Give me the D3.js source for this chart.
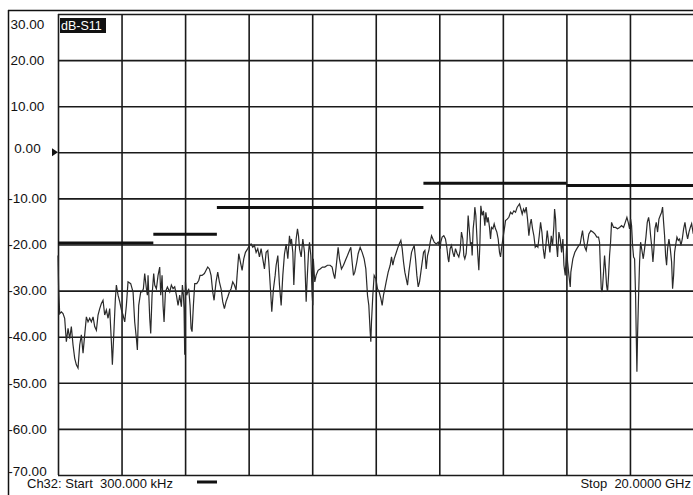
<!DOCTYPE html>
<html>
<head>
<meta charset="utf-8">
<script src="https://cdn.jsdelivr.net/npm/d3@7"></script>
<style>
  body { margin: 0; background: #fff; }
  svg { display: block; font-family: "Liberation Sans", Arial, sans-serif; }
  text { white-space: pre; }
</style>
</head>
<body>
<svg width="693" height="495"></svg>
<script>
// frequency (GHz) / S11 (dB)
var freqGHz = [0.0003,0.02,0.053,0.106,0.158,0.21,0.263,0.316,0.368,0.42,0.473,0.526,0.578,0.63,0.683,0.735,0.788,0.84,0.893,0.945,0.998,1.05,1.103,1.155,1.208,1.26,1.313,1.365,1.417,1.47,1.522,1.575,1.627,1.68,1.711,1.764,1.806,1.837,1.89,1.942,1.995,2.047,2.1,2.152,2.204,2.288,2.362,2.414,2.467,2.498,2.54,2.603,2.645,2.687,2.729,2.782,2.813,2.834,2.887,2.918,2.96,3.012,3.044,3.096,3.149,3.201,3.233,3.275,3.306,3.338,3.38,3.443,3.516,3.568,3.621,3.673,3.726,3.778,3.831,3.883,3.915,3.946,3.967,3.988,4.01,4.051,4.114,4.156,4.188,4.219,4.261,4.303,4.366,4.429,4.471,4.534,4.607,4.66,4.712,4.765,4.817,4.87,4.912,4.974,5.027,5.079,5.132,5.184,5.237,5.289,5.342,5.394,5.447,5.499,5.552,5.604,5.636,5.688,5.741,5.794,5.846,5.899,5.972,6.025,6.077,6.13,6.182,6.235,6.287,6.34,6.392,6.445,6.497,6.55,6.602,6.634,6.686,6.728,6.781,6.834,6.865,6.918,6.97,7.023,7.075,7.128,7.18,7.233,7.285,7.317,7.348,7.39,7.422,7.464,7.495,7.537,7.569,7.6,7.653,7.705,7.758,7.81,7.842,7.884,7.915,7.957,7.999,8.02,8.035,8.081,8.123,8.186,8.249,8.322,8.396,8.48,8.564,8.627,8.669,8.711,8.753,8.816,8.858,8.921,8.984,9.047,9.11,9.173,9.215,9.257,9.299,9.341,9.404,9.446,9.509,9.572,9.635,9.688,9.74,9.782,9.824,9.845,9.866,9.908,9.95,10.003,10.055,10.108,10.16,10.202,10.244,10.286,10.328,10.391,10.454,10.496,10.538,10.58,10.633,10.685,10.738,10.79,10.832,10.874,10.916,10.958,11.0,11.042,11.084,11.126,11.168,11.21,11.252,11.294,11.336,11.378,11.42,11.462,11.504,11.546,11.588,11.63,11.672,11.714,11.756,11.798,11.84,11.903,11.966,12.029,12.047,12.089,12.142,12.194,12.236,12.278,12.299,12.341,12.383,12.425,12.467,12.509,12.562,12.614,12.656,12.698,12.74,12.772,12.803,12.845,12.877,12.908,12.95,12.982,13.013,13.034,13.066,13.097,13.118,13.15,13.181,13.213,13.244,13.276,13.307,13.349,13.391,13.433,13.465,13.507,13.538,13.58,13.612,13.643,13.685,13.727,13.769,13.811,13.853,13.895,13.927,13.958,14.0,14.032,14.063,14.084,14.137,14.189,14.242,14.294,14.347,14.399,14.452,14.483,14.525,14.567,14.609,14.651,14.693,14.735,14.777,14.819,14.861,14.893,14.935,14.977,15.019,15.061,15.103,15.145,15.187,15.229,15.271,15.313,15.355,15.397,15.439,15.481,15.523,15.565,15.607,15.628,15.659,15.691,15.722,15.764,15.806,15.848,15.89,15.922,15.964,16.006,16.037,16.079,16.121,16.14,16.203,16.266,16.329,16.392,16.434,16.476,16.507,16.539,16.581,16.623,16.665,16.707,16.77,16.833,16.896,16.959,17.012,17.043,17.064,17.096,17.127,17.169,17.201,17.232,17.264,17.295,17.327,17.358,17.39,17.421,17.484,17.547,17.61,17.673,17.736,17.799,17.852,17.904,17.946,17.988,18.02,18.051,18.083,18.114,18.146,18.177,18.198,18.219,18.24,18.272,18.303,18.335,18.377,18.419,18.461,18.503,18.545,18.587,18.618,18.65,18.692,18.723,18.755,18.786,18.828,18.87,18.912,18.954,18.996,19.027,19.059,19.09,19.122,19.153,19.185,19.227,19.269,19.311,19.342,19.374,19.405,19.437,19.479,19.521,19.563,19.605,19.647,19.689,19.731,19.773,19.815,19.857,19.899,19.941,19.983,20.0];
var s11dB = [-22.4,-29.5,-35.0,-34.6,-35.0,-36.0,-41.1,-38.2,-40.4,-37.8,-41.8,-44.7,-46.1,-46.8,-41.8,-39.6,-43.6,-39.6,-35.7,-36.8,-36.0,-36.8,-35.7,-37.8,-38.6,-35.3,-33.9,-32.8,-32.1,-35.3,-34.2,-36.0,-33.9,-41.1,-46.1,-38.2,-31.7,-28.8,-31.0,-32.4,-34.2,-35.3,-36.8,-33.2,-28.1,-28.5,-30.3,-36.8,-40.4,-42.9,-33.2,-30.3,-30.3,-29.6,-26.3,-29.6,-31.0,-26.7,-36.0,-39.3,-31.0,-26.3,-28.8,-29.6,-26.7,-24.9,-31.0,-26.7,-33.2,-36.8,-30.3,-29.2,-30.3,-28.8,-29.6,-29.2,-31.0,-33.2,-31.0,-33.5,-28.8,-31.0,-33.9,-43.9,-28.1,-31.0,-29.6,-33.2,-38.2,-38.9,-33.2,-28.5,-28.5,-27.8,-26.7,-26.7,-26.3,-25.6,-24.9,-25.3,-26.7,-30.3,-32.1,-28.1,-26.0,-28.1,-29.6,-32.4,-33.9,-32.4,-31.4,-30.3,-29.6,-28.1,-28.8,-29.9,-26.7,-22.0,-23.8,-25.6,-23.1,-21.7,-20.9,-20.2,-19.9,-20.6,-20.2,-21.7,-20.9,-22.7,-20.9,-23.1,-25.3,-21.7,-21.3,-23.8,-29.6,-34.6,-29.6,-26.7,-24.5,-22.4,-28.8,-33.2,-26.7,-22.0,-19.9,-23.1,-18.1,-19.9,-18.8,-21.7,-28.8,-21.7,-18.8,-16.6,-18.1,-20.9,-22.7,-18.8,-21.7,-32.4,-27.4,-21.7,-19.5,-22.4,-31.0,-33.2,-23.1,-28.1,-26.7,-25.6,-25.3,-24.9,-24.9,-24.5,-24.5,-24.9,-26.3,-27.4,-24.9,-20.6,-23.1,-25.3,-24.5,-23.4,-22.4,-21.3,-20.6,-23.8,-26.7,-26.0,-23.8,-22.0,-20.6,-21.7,-23.1,-25.3,-31.0,-33.2,-38.9,-41.1,-36.8,-31.0,-26.7,-27.4,-29.6,-30.3,-31.7,-33.2,-31.0,-29.6,-28.1,-26.0,-24.5,-22.7,-24.5,-23.1,-22.0,-20.9,-19.9,-19.1,-20.9,-23.8,-26.0,-27.4,-28.8,-26.0,-23.8,-21.7,-20.9,-20.2,-23.1,-26.7,-29.2,-28.1,-26.0,-23.8,-21.7,-21.3,-25.3,-22.4,-21.3,-19.5,-18.1,-18.8,-19.5,-19.9,-19.5,-20.9,-19.5,-18.4,-18.1,-18.8,-20.6,-23.1,-23.8,-20.9,-20.2,-21.7,-22.7,-20.9,-22.0,-22.7,-21.3,-17.3,-18.8,-22.4,-23.1,-22.0,-18.8,-13.7,-17.3,-20.2,-19.5,-22.4,-16.6,-14.5,-11.9,-13.7,-18.1,-22.4,-25.6,-20.2,-11.6,-13.7,-12.7,-15.9,-13.0,-15.2,-14.1,-16.3,-18.8,-16.3,-16.6,-15.5,-16.6,-17.3,-18.8,-21.7,-22.7,-20.9,-18.8,-17.3,-15.9,-14.8,-14.5,-14.1,-13.0,-13.4,-12.7,-13.0,-11.9,-11.6,-11.2,-12.3,-13.4,-12.3,-13.0,-11.9,-14.5,-18.1,-15.5,-14.5,-16.6,-18.1,-20.6,-20.2,-20.6,-18.1,-15.2,-17.3,-20.9,-23.1,-20.2,-17.0,-19.5,-21.7,-18.1,-20.2,-15.9,-12.3,-14.5,-20.2,-22.7,-17.3,-18.8,-21.7,-18.8,-24.5,-26.7,-20.6,-23.8,-26.7,-29.2,-26.0,-23.1,-21.7,-20.9,-20.2,-19.9,-18.1,-17.0,-18.8,-20.6,-21.3,-19.5,-17.7,-17.0,-17.3,-17.7,-18.4,-18.4,-19.5,-23.8,-29.6,-30.3,-26.0,-22.4,-25.3,-28.8,-30.3,-26.7,-22.4,-19.5,-15.2,-16.3,-16.3,-16.6,-16.3,-15.9,-16.3,-15.2,-14.1,-15.2,-16.6,-14.5,-15.9,-20.2,-22.7,-23.1,-31.0,-39.6,-47.6,-39.6,-31.0,-23.8,-19.5,-21.3,-23.1,-20.9,-18.4,-15.2,-14.1,-15.5,-18.1,-20.9,-23.8,-20.9,-16.6,-15.2,-17.3,-14.5,-13.7,-13.0,-11.9,-15.2,-18.1,-22.4,-24.5,-20.9,-18.8,-20.9,-23.8,-29.6,-26.7,-21.7,-20.2,-18.4,-19.1,-18.8,-20.2,-18.8,-16.6,-15.2,-17.3,-18.8,-17.3,-16.3,-15.5,-17.3,-17.0];

// limit line segments
var limitStart = [0.0003, 3, 5, 11.5, 16];
var limitStop = [3, 5, 11.5, 16, 20];
var limitDb = [-19.7, -17.8, -12.0, -6.7, -7.2];

var xTicks = d3.range(0, 21, 2);
var yTicks = d3.range(30, -71, -10);
var traceName = "dB-S11";
var startLabel = "Ch32: Start  300.000 kHz";
var stopLabel = "Stop  20.0000 GHz";

var svg = d3.select("svg");
var plotL = 58, plotT = 14, plotR = 693.5, plotB = 475;

var x = d3.scaleLinear().domain([0, 20]).range([plotL, plotR]);
var y = d3.scaleLinear().domain([30, -70]).range([plotT, plotB]);

// frame
svg.append("line").attr("x1", 8).attr("x2", 693).attr("y1", 10.5).attr("y2", 10.5)
  .attr("stroke", "#111").attr("stroke-width", 1.5);
svg.append("line").attr("x1", 8.5).attr("x2", 8.5).attr("y1", 10).attr("y2", 495)
  .attr("stroke", "#111").attr("stroke-width", 1.5);

// grid
svg.append("g").attr("transform", "translate(0," + plotB + ")")
  .call(d3.axisBottom(x).tickValues(xTicks).tickSize(-(plotB - plotT)).tickFormat(""));
svg.append("g").attr("transform", "translate(" + plotL + ",0)")
  .call(d3.axisLeft(y).tickValues(yTicks).tickSize(-(plotR - plotL)).tickFormat(""));
svg.selectAll(".domain").remove();
svg.selectAll(".tick line").attr("stroke", "#1a1a1a").attr("stroke-width", 1.6);

// y labels
svg.selectAll(".ylab").data(yTicks).enter().append("text")
  .attr("class", "ylab")
  .attr("x", 27.5)
  .attr("y", function(d) { return d == 30 ? y(d) + 10 : d == -70 ? y(d) - 4 : (d == 0 ? y(d) - 4 : y(d)); })
  .attr("dy", "0.35em")
  .attr("text-anchor", "middle")
  .attr("font-size", 13.5)
  .attr("fill", "#111")
  .text(function(d) { return d.toFixed(2); });

// reference marker
svg.append("path")
  .attr("d", "M" + (plotL - 6) + "," + (y(0) - 4) + "L" + plotL + "," + y(0) + "L" + (plotL - 6) + "," + (y(0) + 4) + "Z")
  .attr("fill", "#111");

// trace
var data = freqGHz.map(function(f, i) { return [f, s11dB[i]]; });
svg.append("path")
  .datum(data)
  .attr("fill", "none")
  .attr("stroke", "#2a2a2a")
  .attr("stroke-width", 1.2)
  .attr("d", d3.line().x(function(d) { return x(d[0]); }).y(function(d) { return y(d[1]); }));

// limit lines
svg.selectAll(".limit").data(limitDb).enter().append("line")
  .attr("class", "limit")
  .attr("x1", function(d, i) { return x(limitStart[i]); })
  .attr("x2", function(d, i) { return x(limitStop[i]); })
  .attr("y1", function(d) { return y(d); })
  .attr("y2", function(d) { return y(d); })
  .attr("stroke", "#111")
  .attr("stroke-width", 3);

// trace label box
svg.append("rect").attr("x", 60).attr("y", 18).attr("width", 46).attr("height", 15).attr("fill", "#111");
svg.append("text").attr("x", 61).attr("y", 30).attr("font-size", 12.5).attr("fill", "#fff").text(traceName);

// footer
svg.append("text").attr("x", 27).attr("y", 488).attr("font-size", 13).attr("fill", "#111").text(startLabel);
svg.append("line").attr("x1", 197).attr("x2", 217).attr("y1", 482).attr("y2", 482)
  .attr("stroke", "#111").attr("stroke-width", 3);
svg.append("text").attr("x", 691).attr("y", 488).attr("text-anchor", "end")
  .attr("font-size", 13).attr("fill", "#111").text(stopLabel);
</script>
</body>
</html>
